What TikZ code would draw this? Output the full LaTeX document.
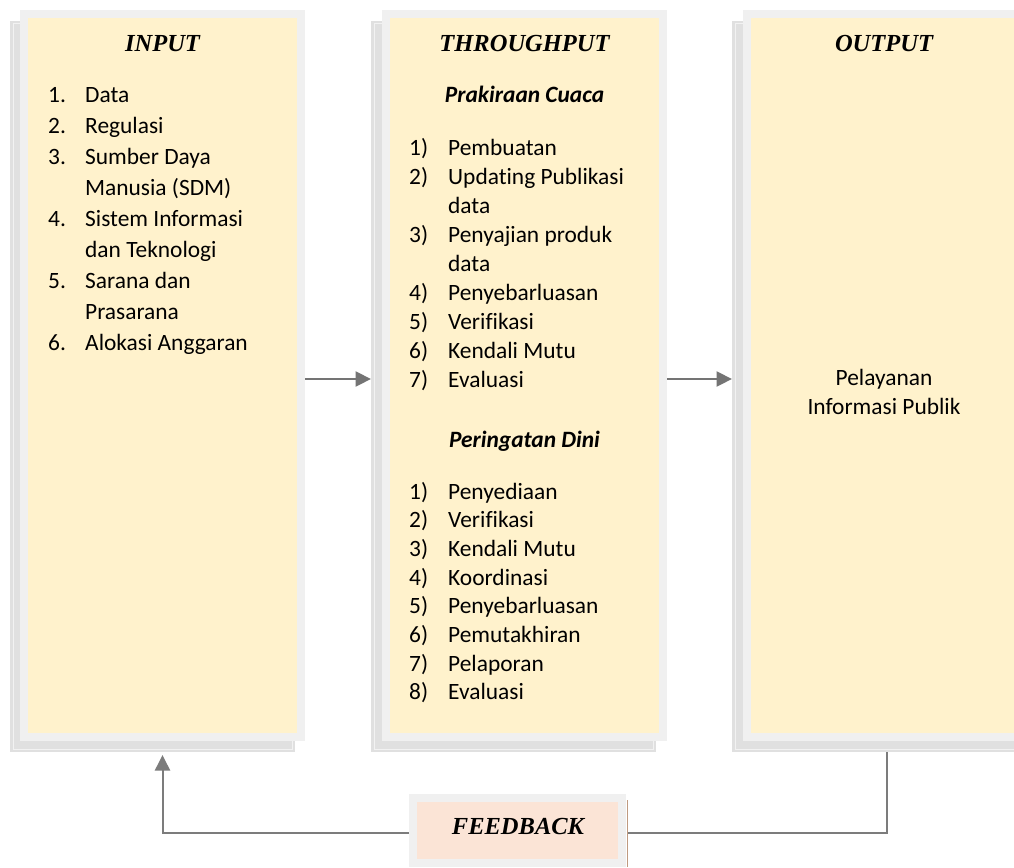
\documentclass[tikz,border=0pt]{standalone}
\usepackage{fontspec}
\usetikzlibrary{arrows.meta,calc}
\newfontfamily\bodyfont[Ligatures=NoCommon]{Carlito}
\newfontfamily\ttlfont{Liberation Serif}
\definecolor{boxyellow}{HTML}{FFF2CC}
\definecolor{bordergray}{HTML}{F0F0F0}
\definecolor{shadowgray}{HTML}{E0E0E0}
\definecolor{shadowline}{HTML}{F2F2F2}
\definecolor{fbpink}{HTML}{FBE4D6}
\definecolor{brownedge}{HTML}{BF9A80}
\definecolor{arrowgray}{HTML}{747474}
\definecolor{linegray}{HTML}{7C7C7C}
\begin{document}
\begin{tikzpicture}[x=1pt,y=-1pt,
  shadowbox/.style={rectangle, fill=shadowgray, draw=none, inner sep=0pt, outer sep=0pt,
    minimum width=285pt, minimum height=731pt},
  shline/.style={draw=shadowline, line width=1pt},
  mainbox/.style={rectangle, fill=boxyellow, draw=bordergray, line width=8pt, inner sep=0pt,
    outer sep=4pt, minimum width=277pt, minimum height=723pt},
  fbbox/.style={rectangle, fill=fbpink, draw=bordergray, line width=8pt, inner sep=0pt,
    outer sep=4pt, minimum width=209pt, minimum height=65pt},
  ttl/.style={inner sep=0pt, anchor=base, font=\ttlfont\bfseries\itshape\fontsize{24.5}{28}\selectfont},
  sub/.style={inner sep=0pt, anchor=base, font=\bodyfont\bfseries\itshape\fontsize{23.4}{28}\selectfont},
  txt/.style={inner sep=0pt, anchor=base west, font=\bodyfont\fontsize{23.4}{28}\selectfont},
  ctxt/.style={inner sep=0pt, anchor=base, font=\bodyfont\fontsize{23.4}{28}\selectfont},
  tip/.style={-{Triangle[length=15.5pt,width=15pt]}},
  arr/.style={draw=arrowgray, line width=2.2pt, tip},
  fbl/.style={draw=linegray, line width=2pt}
]
\clip (0,0) rectangle (1014,867);
\fill[white] (0,0) rectangle (1014,867);

% shadows
\node[shadowbox] (inshadow) at (152.5,386.5) {};
\node[shadowbox] (thshadow) at (513.5,386.5) {};
\node[shadowbox] (outshadow) at (874.5,386.5) {};
\foreach \s in {inshadow,thshadow,outshadow}
  \draw[shline] ([shift={(3,3)}]\s.north west) rectangle ([shift={(-3,-3)}]\s.south east);

% main boxes
\node[mainbox] (inbox) at (162.5,375.5) {};
\node[mainbox] (thbox) at (524.5,375.5) {};
\node[mainbox] (outbox) at (885.5,375.5) {};

% titles
\node[ttl] (inttl) at (162.5,52) {INPUT};
\node[ttl] (thttl) at (524.5,52) {THROUGHPUT};
\node[ttl] (outttl) at (884,52) {OUTPUT};

% input list
\foreach \i/\n in {0/1., 1/2., 2/3., 4/4., 6/5., 8/6.}
  \node[txt] (innum\i) at (48,{102+\i*31.1}) {\n};
\foreach \t [count=\i from 0] in {Data, Regulasi, Sumber Daya, Manusia (SDM), Sistem Informasi,
    dan Teknologi, Sarana dan, Prasarana, Alokasi Anggaran}
  \node[txt] (intxt\i) at (85,{102+\i*31.1}) {\t};

% throughput: prakiraan cuaca
\node[sub] (pcttl) at (524.5,102) {Prakiraan Cuaca};
\foreach \i/\n in {0/1), 1/2), 3/3), 5/4), 6/5), 7/6), 8/7)}
  \node[txt] (pcnum\i) at (409,{155+\i*29}) {\n};
\foreach \t [count=\i from 0] in {Pembuatan, Updating Publikasi, data, Penyajian produk, data,
    Penyebarluasan, Verifikasi, Kendali Mutu, Evaluasi}
  \node[txt] (pctxt\i) at (448,{155+\i*29}) {\t};

% throughput: peringatan dini
\node[sub] (pdttl) at (524.5,447) {Peringatan Dini};
\foreach \t [count=\i from 0] in {Penyediaan, Verifikasi, Kendali Mutu, Koordinasi,
    Penyebarluasan, Pemutakhiran, Pelaporan, Evaluasi} {
  \pgfmathtruncatemacro{\k}{\i+1}
  \node[txt] (pdnum\i) at (409,{499+\i*28.7}) {\k)};
  \node[txt] (pdtxt\i) at (448,{499+\i*28.7}) {\t};
}

% output
\node[ctxt] (outl1) at (884,385) {Pelayanan};
\node[ctxt] (outl2) at (884,414) {Informasi Publik};

% feedback
\node[fbbox] (fb) at (517.5,830.5) {};
\node[ttl] (fbtxt) at (518,834) {FEEDBACK};
\draw[draw=brownedge, line width=1.2pt] ([xshift=1.5pt]fb.east |- 0,800) -- ([xshift=1.5pt]fb.east |- 0,867);

% connectors
\coordinate (ay) at (0,379);
\coordinate (fy) at (0,833);
\draw[arr] (inbox.east |- ay) -- (thshadow.west |- ay);
\draw[arr] (thbox.east |- ay) -- (outshadow.west |- ay);
\draw[fbl, tip] (fb.west |- fy) -| ([yshift=-3pt]inbox.south |- inshadow.south);
\draw[fbl] ([xshift=2pt]fb.east |- fy) -| ([xshift=1.5pt]outbox.south |- outshadow.south);
\end{tikzpicture}
\end{document}
